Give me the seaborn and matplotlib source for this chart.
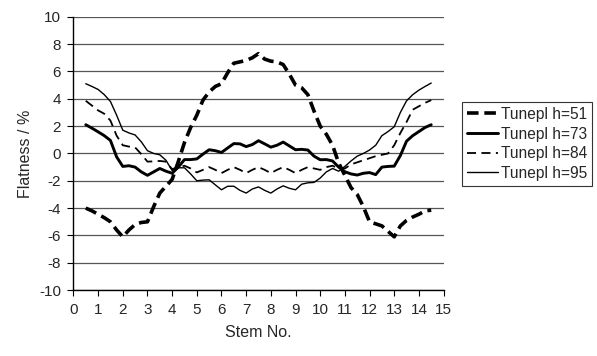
import numpy as np
import pandas as pd
import matplotlib
matplotlib.use("Agg")
import matplotlib.pyplot as plt
import seaborn as sns

# =========================================================
# DATA
# =========================================================

stem = np.arange(0.5, 14.51, 0.25)

h51 = [-4.0, -4.2, -4.45, -4.7, -5.0, -5.6, -6.1, -5.6, -5.2, -5.05, -5.0,
       -3.9, -2.9, -2.4, -1.9, -0.6, 0.8, 1.9, 2.8, 3.9, 4.5, 4.9, 5.1,
       5.9, 6.6, 6.7, 6.8, 7.0, 7.3, 6.9, 6.75, 6.7, 6.5, 5.8, 5.0, 4.8,
       4.3, 3.1, 2.0, 1.4, 0.6, -0.7, -1.6, -2.5, -3.0, -3.9, -5.0, -5.15,
       -5.3, -5.7, -6.1, -5.3, -4.9, -4.65, -4.45, -4.2, -4.15]

h73 = [2.1, 1.85, 1.58, 1.3, 0.95, -0.25, -0.95, -0.9, -1.0, -1.35, -1.6,
       -1.35, -1.1, -1.3, -1.45, -1.0, -0.45, -0.45, -0.4, -0.05, 0.27,
       0.2, 0.07, 0.4, 0.72, 0.7, 0.5, 0.65, 0.93, 0.7, 0.46, 0.6, 0.83,
       0.55, 0.27, 0.3, 0.25, -0.2, -0.46, -0.45, -0.55, -1.0, -1.34,
       -1.5, -1.58, -1.45, -1.4, -1.55, -1.0, -0.95, -0.93, -0.15, 0.9,
       1.3, 1.6, 1.9, 2.1]

h84 = [3.85, 3.5, 3.15, 2.9, 2.4, 1.3, 0.6, 0.5, 0.44, -0.05, -0.6, -0.58,
       -0.55, -0.6, -1.15, -1.0, -0.9, -1.1, -1.39, -1.2, -1.0, -1.2,
       -1.44, -1.2, -1.0, -1.2, -1.44, -1.2, -1.0, -1.2, -1.44, -1.2, -1.0,
       -1.2, -1.44, -1.2, -1.0, -1.1, -1.2, -1.0, -0.9, -1.1, -1.1, -0.8,
       -0.65, -0.5, -0.35, -0.2, -0.1, 0.0, 0.6, 1.5, 2.3, 3.2, 3.45, 3.7,
       3.9]

h95 = [5.1, 4.9, 4.68, 4.3, 3.8, 2.8, 1.7, 1.5, 1.35, 0.85, 0.2, 0.0, -0.1,
       -0.5, -1.25, -1.05, -1.05, -1.5, -2.0, -1.95, -1.93, -2.3, -2.66,
       -2.4, -2.4, -2.7, -2.9, -2.6, -2.45, -2.7, -2.9, -2.6, -2.37, -2.55,
       -2.66, -2.25, -2.15, -2.12, -1.8, -1.35, -1.1, -1.3, -0.95, -0.55,
       -0.2, 0.0, 0.25, 0.6, 1.3, 1.6, 1.95, 3.0, 3.85, 4.3, 4.63, 4.9,
       5.15]

labels = ["Tunepl h=51", "Tunepl h=73", "Tunepl h=84", "Tunepl h=95"]

# =========================================================
# PLOT
# =========================================================

sns.set_style("white")
plt.rcParams["font.family"] = ["Liberation Sans", "DejaVu Sans"]
plt.rcParams["axes.unicode_minus"] = False

fig, ax = plt.subplots(figsize=(5.97, 3.56), dpi=100)
fig.subplots_adjust(left=0.123, right=0.743, bottom=0.185, top=0.953)

styles = [
    dict(linewidth=2.6, dashes=(3.2, 1.6)),
    dict(linewidth=2.1),
    dict(linewidth=1.3, dashes=(5, 3)),
    dict(linewidth=1.0),
]

for vals, lab, st in zip([h51, h73, h84, h95], labels, styles):
    df = pd.DataFrame({"Stem": stem, "Flatness": vals})
    sns.lineplot(data=df, x="Stem", y="Flatness", ax=ax, color="black",
                 linewidth=st["linewidth"], label=lab)
    ln = ax.lines[-1]
    ln.set_solid_joinstyle("round")
    ln.set_dash_joinstyle("round")
    if "dashes" in st:
        ln.set_dashes(st["dashes"])

ax.set_xlim(0, 15)
ax.set_ylim(-10, 10)
ax.set_xticks(range(0, 16))
ax.set_yticks(range(-10, 11, 2))
ax.yaxis.grid(True, color="#555555", linewidth=0.9)
ax.xaxis.grid(False)
ax.set_axisbelow(True)

for s in ["top", "right"]:
    ax.spines[s].set_visible(False)
for s in ["left", "bottom"]:
    ax.spines[s].set_color("black")
    ax.spines[s].set_linewidth(1.0)

ax.tick_params(axis="both", labelsize=11, direction="out", length=4,
               width=0.8, color="black", bottom=True, left=True, pad=5)
ax.set_xlabel("Stem No.", fontsize=11.5, labelpad=6)
ax.set_ylabel("Flatness / %", fontsize=11.5, labelpad=4)

ax.get_legend().remove()
handles, labs = ax.get_legend_handles_labels()
leg = fig.legend(handles, labs, loc="upper left", bbox_to_anchor=(0.774, 0.713),
                 frameon=True, fancybox=False, edgecolor="black", fontsize=11.2,
                 handlelength=2.0, handletextpad=0.2, borderpad=0.3,
                 labelspacing=0.3, borderaxespad=0)
leg.get_frame().set_linewidth(0.8)

plt.savefig("out.png")
